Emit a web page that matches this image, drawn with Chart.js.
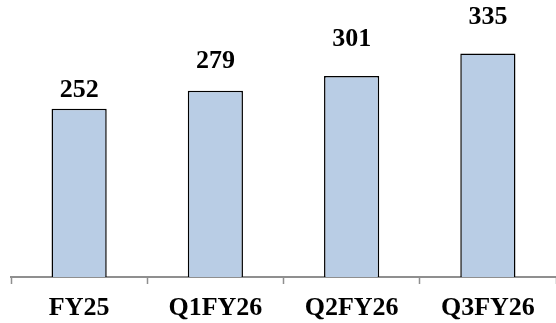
<!DOCTYPE html>
<html>
<head>
<meta charset="utf-8">
<script src="https://cdn.jsdelivr.net/npm/chart.js@4/dist/chart.umd.min.js"></script>
<style>
  html, body { margin: 0; padding: 0; background: #fff; overflow: hidden; }
  #wrap { width: 556px; height: 323px; position: relative; }
</style>
</head>
<body>
<div id="wrap"><canvas id="c"></canvas></div>
<script>
// Period labels and values shown on each bar
const periods = ['FY25', 'Q1FY26', 'Q2FY26', 'Q3FY26'];
const values = [252, 279, 301, 335];

// Vertical gap (px) between each bar top and the baseline of its value label
const labelGap = [12, 23, 30, 29];

const FONT = "'Liberation Serif', 'Times New Roman', serif";

// Draws the bold value above each bar
const valueLabels = {
  id: 'valueLabels',
  afterDatasetsDraw(chart) {
    const { ctx } = chart;
    const meta = chart.getDatasetMeta(0);
    ctx.save();
    ctx.font = 'bold 26px ' + FONT;
    ctx.fillStyle = '#000';
    ctx.textAlign = 'center';
    ctx.textBaseline = 'alphabetic';
    meta.data.forEach((bar, i) => {
      ctx.fillText(String(values[i]), bar.x, bar.y - labelGap[i]);
    });
    ctx.restore();
  }
};

new Chart(document.getElementById('c'), {
  type: 'bar',
  data: {
    labels: periods,
    datasets: [{
      data: values,
      backgroundColor: '#B9CDE5',
      borderColor: '#000',
      borderWidth: 1.5,
      categoryPercentage: 1,
      barPercentage: 0.405
    }]
  },
  options: {
    responsive: true,
    maintainAspectRatio: false,
    animation: false,
    layout: { padding: { top: 10, left: 11, right: 0, bottom: -9 } },
    plugins: { legend: { display: false }, tooltip: { enabled: false } },
    scales: {
      y: { display: false, min: 0, max: 400 },
      x: {
        border: { display: true, color: '#8f8f8f', width: 2 },
        grid: {
          offset: true,
          drawOnChartArea: false,
          drawTicks: true,
          tickLength: 7,
          tickWidth: 1.5,
          tickColor: '#8f8f8f'
        },
        ticks: {
          color: '#000',
          padding: 11,
          font: { family: FONT, size: 26, weight: 'bold', lineHeight: 1.0 }
        }
      }
    }
  },
  plugins: [valueLabels]
});
</script>
</body>
</html>
